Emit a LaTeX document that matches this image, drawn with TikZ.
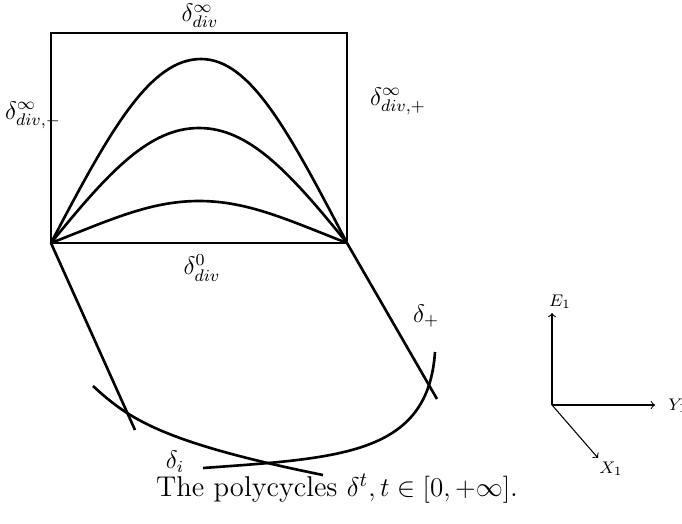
\documentclass[tikz,border=0pt]{standalone}
\usepackage{graphicx}
\begin{document}
\begin{tikzpicture}[x=0.0167cm,y=-0.0167cm,
  curve/.style={line width=1.25pt},
  axis/.style={line width=0.5pt,->,>=to},
  lbl/.style={inner sep=0pt,font=\fontsize{11.5}{13}\selectfont},
  albl/.style={inner sep=0pt,font=\fontsize{8}{9}\selectfont}]
\useasboundingbox (0,0) rectangle (682,523);
\coordinate (A) at (51,243);
\coordinate (B) at (347,243);
\coordinate (TR) at (347,33);
\draw[curve] (A) rectangle (TR);
\draw[curve] (A) .. controls (110,130) and (150,59) .. (201,59) .. controls (250,59) and (288,130) .. (B);
\draw[curve] (A) .. controls (110,170) and (150,128) .. (199,128) .. controls (248,128) and (288,170) .. (B);
\draw[curve] (A) .. controls (110,220) and (150,201) .. (199,201) .. controls (248,201) and (288,220) .. (B);
\coordinate (L1) at (135,430);
\coordinate (R1) at (437,399);
\draw[curve] (A) -- (L1);
\draw[curve] (B) -- (R1);
\coordinate (C1) at (93,386);
\coordinate (C2) at (323,475);
\draw[curve] (C1) .. controls (128,418) and (160,442) .. (C2);
\coordinate (D1) at (203,468);
\coordinate (D2) at (435,352);
\draw[curve] (D1) .. controls (340,458) and (428,455) .. (D2);
\node[lbl] (ltop) at (200,16) {$\delta^\infty_{div}$};
\node[lbl] (lleft) at (33,115) {$\delta^\infty_{div,-}$};
\node[lbl] (lright) at (398,101) {$\delta^\infty_{div,+}$};
\node[lbl] (lbot) at (202,268) {$\delta^0_{div}$};
\node[lbl] (lplus) at (426,316) {$\delta_+$};
\node[lbl] (li) at (175,462) {$\delta_i$};
\coordinate (O) at (552,405);
\node[albl] (E) at (560,302) {$E_1$};
\node[albl] (Y) at (678,406) {$Y_1$};
\node[albl] (X) at (611,469) {$X_1$};
\draw[axis] (O) -- (552,313);
\draw[axis] (O) -- (655,405);
\draw[axis] (O) -- (598,458);
\node[inner sep=0pt,font=\fontsize{12.7}{15}\selectfont] (cap) at (337,489) {\scalebox{1.07}{The polycycles $\delta^t, t\in[0,+\infty]$.}};
\end{tikzpicture}
\end{document}
